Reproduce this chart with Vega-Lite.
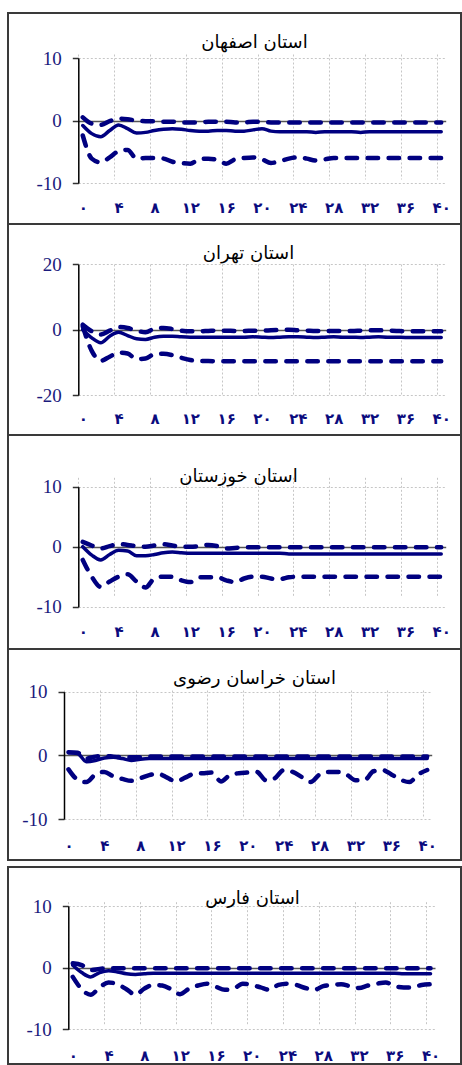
{
  "$schema": "https://vega.github.io/schema/vega-lite/v6.json",
  "padding": {"left": 7, "top": 12, "right": 0, "bottom": 0},
  "spacing": 5,
  "config": {
    "view": {"stroke": "#3a3a3a", "strokeWidth": 2},
    "title": {"font": "DejaVu Sans", "fontSize": 18, "fontWeight": "normal", "color": "#000000", "anchor": "middle", "frame": "group", "baseline": "middle"},
    "axisX": {"domain": false, "ticks": false, "labelOffset": 4.5, "labelPadding": 0, "labelBaseline": "middle", "labelFont": "DejaVu Sans", "labelFontSize": 15, "labelFontWeight": "bold", "labelColor": "#0b0b7e", "grid": true, "gridColor": "#c6c6c6", "gridDash": [2, 2], "gridWidth": 1, "labelFlush": false, "labelOverlap": false, "labelBound": false, "title": null},
    "axisY": {"domainColor": "#000000", "domainWidth": 1.5, "ticks": true, "tickSize": 6, "tickColor": "#333333", "tickWidth": 1.5, "labelFont": "Liberation Serif", "labelFontSize": 19, "labelColor": "#1b1b7d", "labelPadding": 11, "grid": true, "labelFlush": false, "labelOverlap": false, "title": null},
    "axisQuantitative": {"labelFont": "Liberation Serif"}
  },
  "datasets": {
    "isfahan": [
      {"k":0,"m":-0.8,"u":0.5,"l":-2.4},{"k":1,"m":-2.1,"u":-0.5,"l":-6.1},{"k":2,"m":-2.6,"u":-0.7,"l":-6.7},{"k":3,"m":-1.6,"u":-0.1,"l":-5.9},{"k":4,"m":-0.7,"u":0.3,"l":-4.9},{"k":5,"m":-1.3,"u":0.2,"l":-4.7},{"k":6,"m":-2.0,"u":0.0,"l":-6.1},{"k":7,"m":-1.9,"u":-0.1,"l":-6.0},{"k":8,"m":-1.6,"u":-0.1,"l":-6.0},{"k":9,"m":-1.4,"u":-0.2,"l":-6.1},{"k":10,"m":-1.3,"u":-0.2,"l":-6.6},
      {"k":11,"m":-1.4,"u":-0.3,"l":-6.8},{"k":12,"m":-1.6,"u":-0.3,"l":-6.9},{"k":13,"m":-1.7,"u":-0.3,"l":-6.2},{"k":14,"m":-1.7,"u":-0.2,"l":-6.1},{"k":15,"m":-1.6,"u":-0.2,"l":-6.3},{"k":16,"m":-1.6,"u":-0.2,"l":-6.9},{"k":17,"m":-1.7,"u":-0.3,"l":-6.2},{"k":18,"m":-1.7,"u":-0.3,"l":-6.0},{"k":19,"m":-1.5,"u":-0.2,"l":-5.9},{"k":20,"m":-1.3,"u":-0.2,"l":-6.2},
      {"k":21,"m":-1.7,"u":-0.3,"l":-6.8},{"k":22,"m":-1.8,"u":-0.3,"l":-6.5},{"k":23,"m":-1.8,"u":-0.3,"l":-6.1},{"k":24,"m":-1.8,"u":-0.3,"l":-5.9},{"k":25,"m":-1.8,"u":-0.3,"l":-6.1},{"k":26,"m":-1.9,"u":-0.3,"l":-6.4},{"k":27,"m":-1.8,"u":-0.3,"l":-6.2},{"k":28,"m":-1.8,"u":-0.3,"l":-6.0},{"k":29,"m":-1.8,"u":-0.3,"l":-6.0},{"k":30,"m":-1.8,"u":-0.3,"l":-6.0},
      {"k":31,"m":-1.9,"u":-0.3,"l":-6.0},{"k":32,"m":-1.8,"u":-0.3,"l":-6.0},{"k":33,"m":-1.8,"u":-0.3,"l":-6.0},{"k":34,"m":-1.8,"u":-0.3,"l":-6.0},{"k":35,"m":-1.8,"u":-0.3,"l":-6.0},{"k":36,"m":-1.8,"u":-0.3,"l":-6.0},{"k":37,"m":-1.8,"u":-0.3,"l":-6.0},{"k":38,"m":-1.8,"u":-0.3,"l":-6.0},{"k":39,"m":-1.8,"u":-0.3,"l":-6.0},{"k":40,"m":-1.8,"u":-0.3,"l":-6.0}
    ],
    "tehran": [
      {"k":0,"m":0.0,"u":1.5,"l":1.0},{"k":1,"m":-2.5,"u":-0.5,"l":-6.5},{"k":2,"m":-4.0,"u":-1.5,"l":-9.5},{"k":3,"m":-2.0,"u":-0.3,"l":-8.3},{"k":4,"m":-0.8,"u":0.8,"l":-7.0},{"k":5,"m":-1.8,"u":0.5,"l":-7.3},{"k":6,"m":-2.8,"u":-0.3,"l":-9.0},{"k":7,"m":-3.0,"u":-0.8,"l":-8.8},{"k":8,"m":-2.3,"u":0.3,"l":-7.5},{"k":9,"m":-2.0,"u":0.5,"l":-7.4},{"k":10,"m":-2.0,"u":0.2,"l":-7.8},
      {"k":11,"m":-2.2,"u":-0.3,"l":-8.6},{"k":12,"m":-2.3,"u":-0.5,"l":-9.3},{"k":13,"m":-2.3,"u":-0.5,"l":-9.6},{"k":14,"m":-2.3,"u":-0.4,"l":-9.6},{"k":15,"m":-2.3,"u":-0.3,"l":-9.7},{"k":16,"m":-2.3,"u":-0.3,"l":-9.7},{"k":17,"m":-2.3,"u":-0.4,"l":-9.7},{"k":18,"m":-2.3,"u":-0.4,"l":-9.7},{"k":19,"m":-2.2,"u":-0.3,"l":-9.7},{"k":20,"m":-2.3,"u":-0.3,"l":-9.7},
      {"k":21,"m":-2.4,"u":-0.2,"l":-9.7},{"k":22,"m":-2.3,"u":-0.1,"l":-9.7},{"k":23,"m":-2.2,"u":0.0,"l":-9.7},{"k":24,"m":-2.2,"u":-0.2,"l":-9.7},{"k":25,"m":-2.3,"u":-0.3,"l":-9.7},{"k":26,"m":-2.4,"u":-0.4,"l":-9.7},{"k":27,"m":-2.3,"u":-0.4,"l":-9.7},{"k":28,"m":-2.2,"u":-0.4,"l":-9.7},{"k":29,"m":-2.3,"u":-0.4,"l":-9.7},{"k":30,"m":-2.3,"u":-0.4,"l":-9.7},
      {"k":31,"m":-2.4,"u":-0.3,"l":-9.7},{"k":32,"m":-2.3,"u":-0.2,"l":-9.7},{"k":33,"m":-2.2,"u":-0.2,"l":-9.7},{"k":34,"m":-2.3,"u":-0.3,"l":-9.7},{"k":35,"m":-2.3,"u":-0.4,"l":-9.7},{"k":36,"m":-2.4,"u":-0.5,"l":-9.7},{"k":37,"m":-2.4,"u":-0.5,"l":-9.7},{"k":38,"m":-2.4,"u":-0.5,"l":-9.7},{"k":39,"m":-2.4,"u":-0.5,"l":-9.7},{"k":40,"m":-2.4,"u":-0.5,"l":-9.7}
    ],
    "khuzestan": [
      {"k":0,"m":0.0,"u":0.8,"l":-2.2},{"k":1,"m":-1.4,"u":0.2,"l":-5.0},{"k":2,"m":-2.2,"u":-0.3,"l":-6.7},{"k":3,"m":-1.3,"u":0.1,"l":-5.8},{"k":4,"m":-0.6,"u":0.45,"l":-5.0},{"k":5,"m":-0.7,"u":0.3,"l":-4.6},{"k":6,"m":-1.5,"u":0.1,"l":-5.8},{"k":7,"m":-1.5,"u":0.0,"l":-6.8},{"k":8,"m":-1.3,"u":0.2,"l":-5.3},{"k":9,"m":-1.0,"u":0.4,"l":-5.0},{"k":10,"m":-0.9,"u":0.2,"l":-5.0},
      {"k":11,"m":-1.0,"u":0.0,"l":-5.6},{"k":12,"m":-1.1,"u":0.0,"l":-5.9},{"k":13,"m":-1.1,"u":0.1,"l":-5.1},{"k":14,"m":-1.1,"u":0.3,"l":-5.1},{"k":15,"m":-1.1,"u":0.1,"l":-5.1},{"k":16,"m":-1.1,"u":-0.3,"l":-5.6},{"k":17,"m":-1.1,"u":-0.2,"l":-5.9},{"k":18,"m":-1.1,"u":-0.1,"l":-5.3},{"k":19,"m":-1.1,"u":-0.1,"l":-5.0},{"k":20,"m":-1.1,"u":-0.1,"l":-5.0},
      {"k":21,"m":-1.1,"u":-0.1,"l":-5.3},{"k":22,"m":-1.1,"u":-0.1,"l":-5.4},{"k":23,"m":-1.2,"u":-0.1,"l":-5.1},{"k":24,"m":-1.2,"u":-0.1,"l":-5.0},{"k":25,"m":-1.2,"u":-0.1,"l":-5.0},{"k":26,"m":-1.2,"u":-0.1,"l":-5.0},{"k":27,"m":-1.2,"u":-0.1,"l":-5.0},{"k":28,"m":-1.2,"u":-0.1,"l":-5.0},{"k":29,"m":-1.2,"u":-0.1,"l":-5.0},{"k":30,"m":-1.2,"u":-0.1,"l":-5.0},
      {"k":31,"m":-1.2,"u":-0.1,"l":-5.0},{"k":32,"m":-1.2,"u":-0.1,"l":-5.0},{"k":33,"m":-1.2,"u":-0.1,"l":-5.0},{"k":34,"m":-1.2,"u":-0.1,"l":-5.0},{"k":35,"m":-1.2,"u":-0.1,"l":-5.0},{"k":36,"m":-1.2,"u":-0.1,"l":-5.0},{"k":37,"m":-1.2,"u":-0.1,"l":-5.0},{"k":38,"m":-1.2,"u":-0.1,"l":-5.0},{"k":39,"m":-1.2,"u":-0.1,"l":-5.0},{"k":40,"m":-1.2,"u":-0.1,"l":-5.0}
    ],
    "khorasan": [
      {"k":0,"m":0.4,"u":0.5,"l":-2.2},{"k":1,"m":0.3,"u":0.4,"l":-3.8},{"k":2,"m":-1.0,"u":-0.5,"l":-4.2},{"k":3,"m":-0.8,"u":-0.2,"l":-3.0},{"k":4,"m":-0.4,"u":-0.1,"l":-2.6},{"k":5,"m":-0.3,"u":-0.2,"l":-3.3},{"k":6,"m":-0.5,"u":-0.3,"l":-3.7},{"k":7,"m":-0.8,"u":-0.3,"l":-4.0},{"k":8,"m":-0.6,"u":-0.3,"l":-3.6},{"k":9,"m":-0.5,"u":-0.2,"l":-3.1},{"k":10,"m":-0.5,"u":-0.2,"l":-2.9},
      {"k":11,"m":-0.5,"u":-0.2,"l":-3.5},{"k":12,"m":-0.5,"u":-0.2,"l":-4.1},{"k":13,"m":-0.5,"u":-0.2,"l":-3.5},{"k":14,"m":-0.5,"u":-0.2,"l":-2.9},{"k":15,"m":-0.5,"u":-0.2,"l":-2.8},{"k":16,"m":-0.5,"u":-0.2,"l":-2.7},{"k":17,"m":-0.5,"u":-0.2,"l":-4.1},{"k":18,"m":-0.5,"u":-0.2,"l":-3.1},{"k":19,"m":-0.5,"u":-0.2,"l":-2.8},{"k":20,"m":-0.5,"u":-0.2,"l":-2.7},
      {"k":21,"m":-0.5,"u":-0.2,"l":-2.6},{"k":22,"m":-0.5,"u":-0.2,"l":-3.9},{"k":23,"m":-0.5,"u":-0.2,"l":-3.6},{"k":24,"m":-0.5,"u":-0.2,"l":-2.3},{"k":25,"m":-0.5,"u":-0.2,"l":-2.6},{"k":26,"m":-0.5,"u":-0.2,"l":-3.4},{"k":27,"m":-0.5,"u":-0.2,"l":-4.2},{"k":28,"m":-0.5,"u":-0.2,"l":-3.0},{"k":29,"m":-0.5,"u":-0.2,"l":-2.6},{"k":30,"m":-0.5,"u":-0.2,"l":-2.6},
      {"k":31,"m":-0.5,"u":-0.2,"l":-3.0},{"k":32,"m":-0.5,"u":-0.2,"l":-3.9},{"k":33,"m":-0.5,"u":-0.2,"l":-3.9},{"k":34,"m":-0.5,"u":-0.2,"l":-2.5},{"k":35,"m":-0.5,"u":-0.2,"l":-2.3},{"k":36,"m":-0.5,"u":-0.2,"l":-3.0},{"k":37,"m":-0.5,"u":-0.2,"l":-3.8},{"k":38,"m":-0.5,"u":-0.2,"l":-4.2},{"k":39,"m":-0.5,"u":-0.2,"l":-3.0},{"k":40,"m":-0.5,"u":-0.2,"l":-2.3}
    ],
    "fars": [
      {"k":0,"m":0.4,"u":0.7,"l":-1.5},{"k":1,"m":-0.8,"u":0.4,"l":-3.5},{"k":2,"m":-1.5,"u":-0.4,"l":-4.4},{"k":3,"m":-0.8,"u":-0.2,"l":-3.2},{"k":4,"m":-0.5,"u":-0.1,"l":-2.4},{"k":5,"m":-0.7,"u":-0.1,"l":-2.7},{"k":6,"m":-1.0,"u":-0.1,"l":-3.5},{"k":7,"m":-1.1,"u":-0.1,"l":-4.4},{"k":8,"m":-1.0,"u":-0.1,"l":-3.4},{"k":9,"m":-0.9,"u":-0.1,"l":-2.8},{"k":10,"m":-0.9,"u":-0.1,"l":-2.9},
      {"k":11,"m":-0.9,"u":-0.1,"l":-3.5},{"k":12,"m":-0.9,"u":-0.1,"l":-4.3},{"k":13,"m":-0.9,"u":-0.1,"l":-3.4},{"k":14,"m":-0.9,"u":-0.1,"l":-2.9},{"k":15,"m":-0.9,"u":-0.1,"l":-2.6},{"k":16,"m":-0.9,"u":-0.1,"l":-3.1},{"k":17,"m":-0.9,"u":-0.1,"l":-3.6},{"k":18,"m":-0.9,"u":-0.1,"l":-3.4},{"k":19,"m":-0.9,"u":-0.1,"l":-2.6},{"k":20,"m":-0.9,"u":-0.1,"l":-2.8},
      {"k":21,"m":-0.9,"u":-0.1,"l":-3.2},{"k":22,"m":-0.9,"u":-0.1,"l":-3.6},{"k":23,"m":-0.9,"u":-0.1,"l":-2.8},{"k":24,"m":-0.9,"u":-0.1,"l":-2.6},{"k":25,"m":-0.9,"u":-0.1,"l":-2.8},{"k":26,"m":-0.9,"u":-0.1,"l":-3.3},{"k":27,"m":-0.9,"u":-0.1,"l":-3.6},{"k":28,"m":-0.9,"u":-0.1,"l":-3.0},{"k":29,"m":-0.9,"u":-0.1,"l":-2.8},{"k":30,"m":-0.9,"u":-0.1,"l":-2.7},
      {"k":31,"m":-0.9,"u":-0.1,"l":-3.0},{"k":32,"m":-0.9,"u":-0.1,"l":-3.3},{"k":33,"m":-0.9,"u":-0.1,"l":-2.9},{"k":34,"m":-0.9,"u":-0.1,"l":-2.6},{"k":35,"m":-0.9,"u":-0.1,"l":-2.4},{"k":36,"m":-0.9,"u":-0.1,"l":-3.0},{"k":37,"m":-1.0,"u":-0.1,"l":-3.2},{"k":38,"m":-1.0,"u":-0.1,"l":-3.2},{"k":39,"m":-1.0,"u":-0.1,"l":-2.8},{"k":40,"m":-1.0,"u":-0.1,"l":-2.7}
    ]
  },
  "vconcat": [
    {
      "bounds": "flush",
      "spacing": 0,
      "vconcat": [
        {
          "width": 453, "height": 211,
          "title": {"text": "استان اصفهان", "offset": -39, "dx": 20},
          "data": {"name": "isfahan"},
          "encoding": {
            "x": {"field": "k", "type": "quantitative", "scale": {"domain": [-0.5, 40.5], "range": [70.3, 437.7]},
                  "axis": {"offset": -17, "labelFont": "DejaVu Sans", "values": [-0.5, 3.5, 7.5, 11.5, 15.5, 19.5, 23.5, 27.5, 31.5, 35.5, 39.5], "labelExpr": "['۰','۴','۸','۱۲','۱۶','۲۰','۲۴','۲۸','۳۲','۳۶','۴۰'][round((datum.value+0.5)/4)]"}}
          },
          "layer": [
            {"mark": {"type": "line", "color": "#000080", "strokeWidth": 3.5, "interpolate": "monotone", "strokeCap": "round"},
             "encoding": {"y": {"field": "m", "type": "quantitative", "scale": {"domain": [-10, 10], "range": [170, 45]},
               "axis": {"offset": -70.3, "labelFont": "Liberation Serif", "values": [-10, 0, 10], "labelExpr": "datum.value + ''",
                 "gridColor": {"condition": {"test": "datum.value === 0", "value": "#555555"}, "value": "#c6c6c6"},
                 "gridDash": {"condition": {"test": "datum.value === 0", "value": []}, "value": [2, 2]},
                 "gridWidth": {"condition": {"test": "datum.value === 0", "value": 1.5}, "value": 1}}}}},
            {"transform": [{"fold": ["u", "l"]}],
             "mark": {"type": "line", "color": "#000080", "strokeWidth": 4.5, "strokeDash": [10.5, 10.5], "strokeCap": "round", "interpolate": "monotone"},
             "encoding": {"y": {"field": "value", "type": "quantitative", "scale": {"domain": [-10, 10], "range": [170, 45]}}, "detail": {"field": "key"}}}
          ]
        },
        {
          "width": 453, "height": 211,
          "title": {"text": "استان تهران", "offset": -39, "dx": 14},
          "data": {"name": "tehran"},
          "encoding": {
            "x": {"field": "k", "type": "quantitative", "scale": {"domain": [-0.5, 40.5], "range": [70.3, 437.7]},
                  "axis": {"offset": -17, "labelFont": "DejaVu Sans", "values": [-0.5, 3.5, 7.5, 11.5, 15.5, 19.5, 23.5, 27.5, 31.5, 35.5, 39.5], "labelExpr": "['۰','۴','۸','۱۲','۱۶','۲۰','۲۴','۲۸','۳۲','۳۶','۴۰'][round((datum.value+0.5)/4)]"}}
          },
          "layer": [
            {"mark": {"type": "line", "color": "#000080", "strokeWidth": 3.5, "interpolate": "monotone", "strokeCap": "round"},
             "encoding": {"y": {"field": "m", "type": "quantitative", "scale": {"domain": [-20, 20], "range": [171, 40.3]},
               "axis": {"offset": -70.3, "labelFont": "Liberation Serif", "values": [-20, 0, 20], "labelExpr": "datum.value + ''",
                 "gridColor": {"condition": {"test": "datum.value === 0", "value": "#555555"}, "value": "#c6c6c6"},
                 "gridDash": {"condition": {"test": "datum.value === 0", "value": []}, "value": [2, 2]},
                 "gridWidth": {"condition": {"test": "datum.value === 0", "value": 1.5}, "value": 1}}}}},
            {"transform": [{"fold": ["u", "l"]}],
             "mark": {"type": "line", "color": "#000080", "strokeWidth": 4.5, "strokeDash": [10.5, 10.5], "strokeCap": "round", "interpolate": "monotone"},
             "encoding": {"y": {"field": "value", "type": "quantitative", "scale": {"domain": [-20, 20], "range": [171, 40.3]}}, "detail": {"field": "key"}}}
          ]
        },
        {
          "width": 453, "height": 214,
          "title": {"text": "استان خوزستان", "offset": -50.5, "dx": 4},
          "data": {"name": "khuzestan"},
          "encoding": {
            "x": {"field": "k", "type": "quantitative", "scale": {"domain": [-0.5, 40.5], "range": [70.3, 437.7]},
                  "axis": {"offset": -17.3, "labelFont": "DejaVu Sans", "values": [-0.5, 3.5, 7.5, 11.5, 15.5, 19.5, 23.5, 27.5, 31.5, 35.5, 39.5], "labelExpr": "['۰','۴','۸','۱۲','۱۶','۲۰','۲۴','۲۸','۳۲','۳۶','۴۰'][round((datum.value+0.5)/4)]"}}
          },
          "layer": [
            {"mark": {"type": "line", "color": "#000080", "strokeWidth": 3.5, "interpolate": "monotone", "strokeCap": "round"},
             "encoding": {"y": {"field": "m", "type": "quantitative", "scale": {"domain": [-10, 10], "range": [171.7, 51.7]},
               "axis": {"offset": -70.3, "labelFont": "Liberation Serif", "values": [-10, 0, 10], "labelExpr": "datum.value + ''",
                 "gridColor": {"condition": {"test": "datum.value === 0", "value": "#555555"}, "value": "#c6c6c6"},
                 "gridDash": {"condition": {"test": "datum.value === 0", "value": []}, "value": [2, 2]},
                 "gridWidth": {"condition": {"test": "datum.value === 0", "value": 1.5}, "value": 1}}}}},
            {"transform": [{"fold": ["u", "l"]}],
             "mark": {"type": "line", "color": "#000080", "strokeWidth": 4.5, "strokeDash": [10.5, 10.5], "strokeCap": "round", "interpolate": "monotone"},
             "encoding": {"y": {"field": "value", "type": "quantitative", "scale": {"domain": [-10, 10], "range": [171.7, 51.7]}}, "detail": {"field": "key"}}}
          ]
        },
        {
          "width": 453, "height": 211,
          "title": {"text": "استان خراسان رضوی", "offset": -39, "dx": 20},
          "data": {"name": "khorasan"},
          "encoding": {
            "x": {"field": "k", "type": "quantitative", "scale": {"domain": [-0.5, 40.5], "range": [56, 423.7]},
                  "axis": {"offset": -15, "labelFont": "DejaVu Sans", "values": [-0.5, 3.5, 7.5, 11.5, 15.5, 19.5, 23.5, 27.5, 31.5, 35.5, 39.5], "labelExpr": "['۰','۴','۸','۱۲','۱۶','۲۰','۲۴','۲۸','۳۲','۳۶','۴۰'][round((datum.value+0.5)/4)]"}}
          },
          "layer": [
            {"mark": {"type": "line", "color": "#000080", "strokeWidth": 3.5, "interpolate": "monotone", "strokeCap": "round"},
             "encoding": {"y": {"field": "m", "type": "quantitative", "scale": {"domain": [-10, 10], "range": [170, 42.7]},
               "axis": {"offset": -56, "labelFont": "Liberation Serif", "values": [-10, 0, 10], "labelExpr": "datum.value + ''",
                 "gridColor": {"condition": {"test": "datum.value === 0", "value": "#555555"}, "value": "#c6c6c6"},
                 "gridDash": {"condition": {"test": "datum.value === 0", "value": []}, "value": [2, 2]},
                 "gridWidth": {"condition": {"test": "datum.value === 0", "value": 1.5}, "value": 1}}}}},
            {"transform": [{"fold": ["u", "l"]}],
             "mark": {"type": "line", "color": "#000080", "strokeWidth": 4.5, "strokeDash": [10.5, 10.5], "strokeCap": "round", "interpolate": "monotone"},
             "encoding": {"y": {"field": "value", "type": "quantitative", "scale": {"domain": [-10, 10], "range": [170, 42.7]}}, "detail": {"field": "key"}}}
          ]
        }
      ]
    },
    {
      "width": 453, "height": 197,
      "title": {"text": "استان فارس", "offset": -41, "dx": 18},
      "data": {"name": "fars"},
      "encoding": {
        "x": {"field": "k", "type": "quantitative", "scale": {"domain": [-0.5, 40.5], "range": [60.3, 427]},
              "axis": {"offset": -9, "labelFont": "DejaVu Sans", "values": [-0.5, 3.5, 7.5, 11.5, 15.5, 19.5, 23.5, 27.5, 31.5, 35.5, 39.5], "labelExpr": "['۰','۴','۸','۱۲','۱۶','۲۰','۲۴','۲۸','۳۲','۳۶','۴۰'][round((datum.value+0.5)/4)]"}}
      },
      "layer": [
        {"mark": {"type": "line", "color": "#000080", "strokeWidth": 3.5, "interpolate": "monotone", "strokeCap": "round"},
         "encoding": {"y": {"field": "m", "type": "quantitative", "scale": {"domain": [-10, 10], "range": [162.3, 39]},
           "axis": {"offset": -60.3, "labelFont": "Liberation Serif", "values": [-10, 0, 10], "labelExpr": "datum.value + ''",
             "gridColor": {"condition": {"test": "datum.value === 0", "value": "#555555"}, "value": "#c6c6c6"},
             "gridDash": {"condition": {"test": "datum.value === 0", "value": []}, "value": [2, 2]},
             "gridWidth": {"condition": {"test": "datum.value === 0", "value": 1.5}, "value": 1}}}}},
        {"transform": [{"fold": ["u", "l"]}],
         "mark": {"type": "line", "color": "#000080", "strokeWidth": 4.5, "strokeDash": [10.5, 10.5], "strokeCap": "round", "interpolate": "monotone"},
         "encoding": {"y": {"field": "value", "type": "quantitative", "scale": {"domain": [-10, 10], "range": [162.3, 39]}}, "detail": {"field": "key"}}}
      ]
    }
  ]
}
